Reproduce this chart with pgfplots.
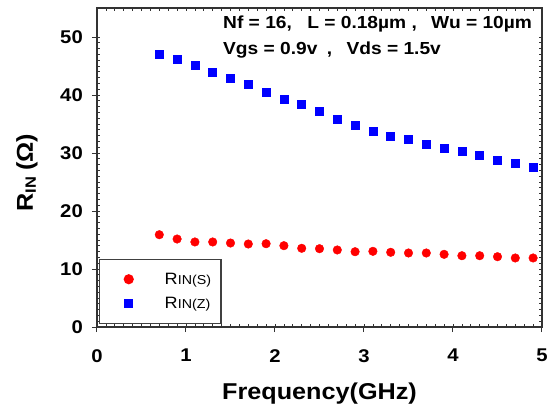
\documentclass[border=0pt]{standalone}
\usepackage{pgfplots}
\pgfplotsset{compat=1.18}
\usepackage{pgfplotstable}
\usepackage{fontspec}
\setmainfont{Liberation Sans}[FakeStretch=1.1]

\pgfplotstableread{
x s z
0.7 15.91 46.95
0.9 15.17 46.16
1.1 14.66 45.17
1.3 14.66 43.97
1.5 14.48 42.98
1.7 14.31 41.78
1.9 14.36 40.47
2.1 14.02 39.19
2.3 13.57 38.40
2.5 13.50 37.24
2.7 13.28 35.91
2.9 12.98 34.78
3.1 13.05 33.79
3.3 12.88 32.98
3.5 12.76 32.36
3.7 12.76 31.55
3.9 12.53 30.91
4.1 12.29 30.29
4.3 12.29 29.60
4.5 12.12 28.84
4.7 11.90 28.16
4.9 11.90 27.59
}\data

\begin{document}
\begin{tikzpicture}
% inner ticks (all sides)
\begin{axis}[scale only axis, width=445bp, height=319bp,
  xmin=0, xmax=5, ymin=0, ymax=55,
  xtick={0,...,5}, ytick={0,10,...,50},
  minor tick num=9, tick align=inside,
  major tick length=3bp, minor tick length=3bp,
  tick style={black!80, line width=0.7bp},
  xticklabels={}, yticklabels={},
  axis line style={draw=none}]
\end{axis}
% main axis
\begin{axis}[name=ax, scale only axis, width=445bp, height=319bp,
  xmin=0, xmax=5, ymin=0, ymax=55,
  xtick={0,...,5}, ytick={0,10,...,50},
  tick pos=left, tick align=outside, major tick length=5bp,
  tick style={black!80, line width=1bp},
  axis line style={black!80, line width=1.3bp},
  /pgf/number format/assume math mode=true,
  ticklabel style={font=\fontsize{18.5}{20}\selectfont\bfseries, inner sep=0pt},
  xticklabel style={anchor=north, yshift=-17bp},
  yticklabel style={anchor=east, xshift=-9bp},
  xlabel={Frequency(GHz)},
  xlabel style={font=\fontsize{23}{24}\selectfont\bfseries, at={(rel axis cs:0.5,0)}, anchor=base, yshift=-72bp},
  ylabel={R\raisebox{-3bp}{\fontsize{15}{16}\selectfont IN}\hspace{6bp}(Ω)},
  ylabel style={font=\fontsize{23}{24}\selectfont\bfseries, at={(rel axis cs:0,0.5)}, anchor=center, yshift=70bp, xshift=-5bp},
  legend style={at={(0,0)}, anchor=south west, xshift=2bp, yshift=3bp,
    draw=black!75, line width=1.5bp, inner xsep=0pt, inner ysep=8bp,
    row sep=0pt, column sep=28bp, nodes={inner sep=0pt},
    font=\fontsize{16.5}{18}\selectfont},
  legend cell align=left,
  legend image code/.code={\draw[#1] plot coordinates {(0bp,0bp)}; \path[draw=none, fill=none] (-29bp,-12bp) rectangle (8bp,12bp);},
]
\addplot[only marks, mark=*, mark size=4.3bp, color=red] table[x=x,y=s]{\data};
\addlegendentry{R{\fontsize{13}{14}\selectfont IN(S)}\hspace*{10bp}}
\addplot[only marks, mark=square*, mark size=4bp, color=blue] table[x=x,y=z]{\data};
\addlegendentry{R{\fontsize{13}{14}\selectfont IN(Z)}\hspace*{10bp}}
\end{axis}
\node[anchor=base west, inner sep=0pt, font=\fontsize{17.5}{20}\selectfont\bfseries] at ([xshift=126bp, yshift=-20bp]ax.north west) {Nf = 16, \hspace{10bp}L = 0.18µm , \hspace{9bp}Wu = 10µm};
\node[anchor=base west, inner sep=0pt, font=\fontsize{17.5}{20}\selectfont\bfseries] at ([xshift=126bp, yshift=-46bp]ax.north west) {Vgs = 0.9v\hspace{4bp} , \hspace{9bp}Vds = 1.5v};
\pgfresetboundingbox
\path (ax.south west) ++(-97bp,-78bp) rectangle ++(556bp,405bp);
\end{tikzpicture}
\end{document}
